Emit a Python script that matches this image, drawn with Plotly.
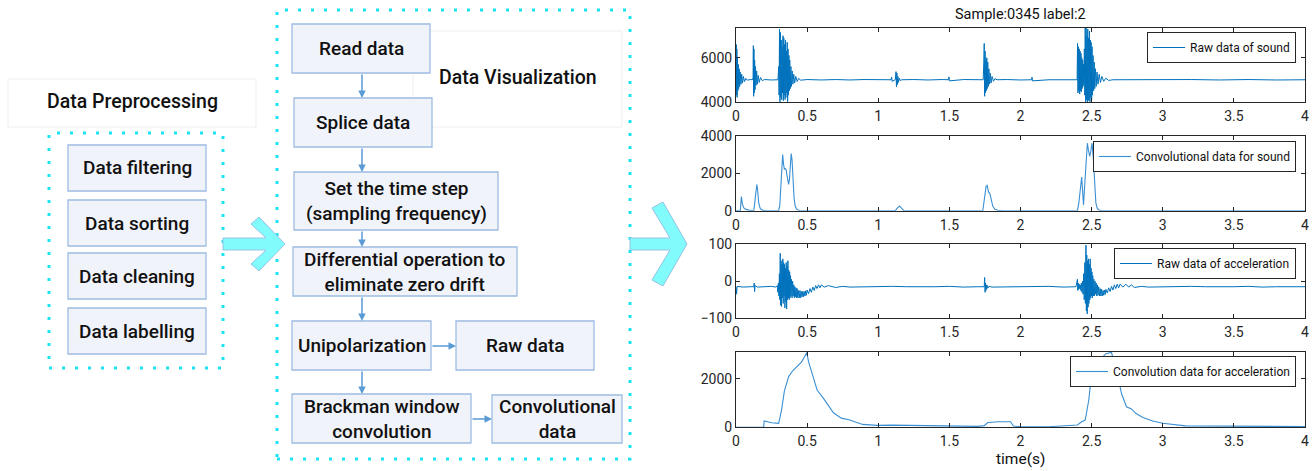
import plotly.graph_objects as go

W, H = 1313, 471

# ---------------- data ----------------
time_ticks = [0, 0.5, 1, 1.5, 2, 2.5, 3, 3.5, 4]
time_tick_text = ["0", "0.5", "1", "1.5", "2", "2.5", "3", "3.5", "4"]

# raw sound
snd_t = [
    0.000, 0.002, 0.004, 0.006, 0.008, 0.010, 0.013, 0.016, 0.019, 0.022, 0.026, 0.030, 0.035, 0.040, 0.046, 0.052, 0.060, 0.070, 0.080, 0.100,
    0.115, 0.120, 0.122, 0.124, 0.126, 0.128, 0.131, 0.134, 0.137, 0.141, 0.145, 0.150, 0.156, 0.163, 0.172, 0.185, 0.200, 0.250,
    0.295, 0.300, 0.303, 0.306, 0.309, 0.312, 0.315, 0.318, 0.321, 0.324, 0.327, 0.330, 0.333, 0.336, 0.339, 0.342, 0.345, 0.348, 0.351, 0.354,
    0.357, 0.360, 0.363, 0.366, 0.369, 0.372, 0.375, 0.378, 0.382, 0.386, 0.390, 0.395, 0.400, 0.406, 0.412, 0.420, 0.430, 0.440, 0.455, 0.500,
    0.600, 0.700, 0.800, 0.900, 1.000, 1.090, 1.094, 1.098, 1.120, 1.125, 1.128, 1.131, 1.134, 1.138, 1.142, 1.148, 1.155, 1.165, 1.250, 1.350,
    1.450, 1.494, 1.497, 1.500, 1.600, 1.700, 1.738, 1.742, 1.745, 1.748, 1.751, 1.754, 1.757, 1.760, 1.763, 1.766, 1.770, 1.774, 1.778, 1.782,
    1.787, 1.793, 1.800, 1.810, 1.820, 1.835, 1.900, 2.000, 2.078, 2.081, 2.084, 2.200, 2.300, 2.398,
    2.401, 2.404, 2.407, 2.410, 2.413, 2.416, 2.419, 2.422, 2.425, 2.428, 2.431, 2.434, 2.437, 2.440, 2.443, 2.446, 2.449, 2.452, 2.455, 2.458,
    2.461, 2.464, 2.467, 2.470, 2.473, 2.476, 2.479, 2.482, 2.485, 2.488, 2.491, 2.494, 2.497, 2.500, 2.503, 2.506, 2.510, 2.514, 2.518, 2.522,
    2.527, 2.532, 2.538, 2.545, 2.553, 2.562, 2.572, 2.585, 2.600, 2.620, 2.650, 2.800, 3.000, 3.200, 3.400, 3.600, 3.800, 4.000,
]
snd_v = [
    5000, 6600, 4300, 6400, 4200, 6000, 4500, 5700, 4600, 5500, 4700, 5350, 4800, 5250, 4850, 5150, 4920, 5060, 4980, 5010,
    5000, 5100, 6550, 4250, 6400, 4400, 5900, 4550, 5600, 4750, 5400, 4800, 5200, 4880, 5100, 4960, 5010, 4990,
    5000, 5600, 4300, 7300, 4000, 7150, 4200, 6800, 4100, 6500, 4400, 7000, 4050, 6900, 4300, 6600, 4100, 6800, 4200, 6300,
    4400, 6700, 4000, 6400, 4300, 6100, 4500, 5900, 4600, 5600, 4700, 5400, 4800, 5250, 4850, 5150, 4920, 5060, 4980, 5010,
    4990, 5010, 4990, 5010, 5000, 5000, 5120, 4930, 5000, 5370, 4680, 5300, 4780, 5150, 4880, 5070, 4960, 5000, 5010, 4990,
    5010, 5000, 5130, 4950, 5010, 4990, 5000, 5800, 6650, 4250, 6300, 4400, 5900, 4500, 6000, 4600, 5800, 4700, 5500, 4800,
    5300, 4850, 5150, 4930, 5050, 5000, 5010, 4990, 5000, 5120, 4950, 5000, 5010, 5000,
    6650, 4400, 6500, 4500, 6400, 4350, 6300, 4500, 6200, 4450, 6000, 4600, 5900, 4700, 5700, 4800, 6400, 4300, 7400, 4000,
    7350, 4100, 7000, 3990, 7300, 4050, 6900, 4100, 7200, 4000, 6800, 4200, 6700, 4100, 6500, 4300, 6100, 4500, 5800, 4600,
    5500, 4700, 5350, 4800, 5250, 4880, 5150, 4930, 5070, 4970, 5000, 5010, 4990, 5010, 4990, 5010, 4990, 5000,
]

# convolutional sound
csnd_t = [
    0.000, 0.030, 0.038, 0.045, 0.055, 0.070, 0.090, 0.110,
    0.125, 0.133, 0.140, 0.146, 0.152, 0.160, 0.170, 0.185, 0.210,
    0.300, 0.308, 0.316, 0.322, 0.328, 0.334, 0.340, 0.346, 0.352, 0.358, 0.364, 0.370, 0.376, 0.382, 0.388, 0.394, 0.400, 0.408, 0.416, 0.425, 0.435, 0.450, 0.480,
    1.120, 1.135, 1.150, 1.165, 1.180,
    1.735, 1.748, 1.758, 1.766, 1.775, 1.785, 1.795, 1.805, 1.820, 1.840, 1.870,
    2.400, 2.410, 2.420, 2.430, 2.437, 2.443, 2.450, 2.460, 2.470, 2.478, 2.487, 2.495, 2.503, 2.512, 2.520, 2.530, 2.540, 2.550, 2.565, 2.590, 2.640,
    4.000,
]
csnd_v = [
    0, 0, 750, 350, 150, 70, 30, 0,
    0, 500, 1200, 1400, 1100, 400, 120, 30, 0,
    0, 300, 1600, 2700, 3000, 2500, 2200, 2250, 2200, 1900, 1600, 1400, 1700, 2600, 3050, 2700, 1700, 700, 250, 100, 40, 10, 0,
    0, 150, 250, 120, 0,
    0, 700, 1300, 1350, 1000, 900, 600, 250, 80, 20, 0,
    0, 400, 1300, 1800, 1000, 300, 1200, 2800, 3600, 3200, 2900, 3200, 3600, 2800, 1300, 400, 120, 40, 10, 0, 0,
    0,
]

# raw acceleration
acc_t = [
    0.000, 0.004, 0.008, 0.050, 0.100, 0.125, 0.128, 0.131, 0.134, 0.150, 0.200, 0.250, 0.280, 0.290, 0.294, 0.298, 0.302, 0.305, 0.308, 0.311,
    0.314, 0.317, 0.320, 0.323, 0.326, 0.329, 0.332, 0.335, 0.338, 0.341, 0.344, 0.347, 0.350, 0.353, 0.356, 0.359, 0.362, 0.365, 0.368, 0.371,
    0.374, 0.377, 0.380, 0.383, 0.386, 0.390, 0.394, 0.398, 0.402, 0.406, 0.410, 0.414, 0.418, 0.422, 0.426, 0.430, 0.435, 0.440, 0.445, 0.450,
    0.455, 0.460, 0.465, 0.470, 0.475, 0.480, 0.485, 0.490, 0.495, 0.500, 0.510, 0.520, 0.530, 0.540, 0.550, 0.560, 0.570, 0.580, 0.590, 0.600,
    0.620, 0.650, 0.700, 0.750, 0.800, 0.900, 1.000, 1.100, 1.200, 1.300, 1.400, 1.500, 1.600, 1.700, 1.745, 1.748, 1.751, 1.754, 1.757, 1.760,
    1.764, 1.768, 1.772, 1.780, 1.800, 1.900, 2.000, 2.100, 2.200, 2.300, 2.390, 2.400, 2.403, 2.406, 2.409, 2.412, 2.416, 2.420, 2.424, 2.428,
    2.432, 2.436, 2.440, 2.444, 2.448, 2.452, 2.456, 2.460, 2.463, 2.466, 2.469, 2.472, 2.475, 2.478, 2.481, 2.484, 2.487, 2.490, 2.493, 2.496,
    2.499, 2.502, 2.505, 2.508, 2.512, 2.516, 2.520, 2.524, 2.528, 2.532, 2.536, 2.540, 2.545, 2.550, 2.555, 2.560, 2.565, 2.570, 2.575, 2.580,
    2.585, 2.590, 2.595, 2.600, 2.610, 2.620, 2.630, 2.640, 2.650, 2.660, 2.670, 2.680, 2.690, 2.700, 2.720, 2.740, 2.760, 2.780, 2.800, 2.850,
    2.900, 3.000, 3.100, 3.200, 3.300, 3.400, 3.500, 3.600, 3.700, 3.800, 3.900, 4.000,
]
acc_v = [
    -15, -35, -14, -16, -15, -15, -5, -28, -12, -16, -15, -14, -16, -12, -30, -5, -40, 20, -50, 75,
    -65, 55, -68, 45, -45, 60, -60, 50, -40, 45, -72, 35, -55, 50, -75, 40, -50, 55, -45, 30,
    -50, 25, -45, 15, -40, 5, -45, 0, -40, -10, -45, -15, -42, -18, -45, -20, -45, -25, -45, -25,
    -45, -28, -42, -27, -42, -28, -40, -26, -38, -24, -34, -20, -30, -16, -25, -12, -20, -10, -18, -10,
    -16, -12, -17, -14, -16, -15, -16, -14, -15, -16, -15, -14, -16, -15, -15, 10, -30, -5, -25, -10,
    -20, -12, -18, -14, -16, -15, -16, -15, -14, -16, -15, 5, -25, -5, -22, -8, -20, -10, -25, -5,
    -30, 0, -35, 20, -50, 50, -60, 97, -80, 70, -88, 55, -70, 60, -60, 45, -50, 60, -45, 35,
    -40, 25, -45, 15, -40, 5, -40, 0, -35, -5, -40, -10, -38, -15, -40, -20, -40, -22, -40, -25,
    -38, -24, -36, -22, -32, -18, -28, -14, -24, -10, -20, -8, -18, -8, -16, -8, -16, -10, -17, -14,
    -16, -15, -16, -14, -15, -16, -15, -14, -16, -15, -16, -15,
]

# convolution acceleration
cacc_t = [
    0.000, 0.100, 0.195, 0.198, 0.250, 0.300, 0.320, 0.340, 0.370, 0.400, 0.430, 0.460, 0.480, 0.497, 0.510,
    0.540, 0.570, 0.615, 0.650, 0.685, 0.740, 0.800, 0.890, 0.990, 1.100, 1.300, 1.500, 1.700, 1.745, 1.770,
    1.850, 1.930, 1.950, 2.000, 2.200, 2.400, 2.430, 2.455, 2.480, 2.490, 2.520, 2.560, 2.600, 2.640, 2.660,
    2.675, 2.690, 2.710, 2.745, 2.780, 2.810, 2.860, 2.930, 3.000, 3.160, 3.500, 4.000,
]
cacc_v = [
    0, 5, 10, 260, 190, 165, 715, 1500, 2100, 2350, 2510, 2700, 2900, 3100, 2720,
    2100, 1545, 1200, 900, 600, 380, 300, 120, 80, 90, 70, 50, 40, 70, 200,
    230, 230, 55, 20, 25, 95, 230, 300, 1130, 1680, 2300, 2800, 3050, 3100, 2600,
    2165, 1960, 1400, 850, 760, 580, 410, 260, 165, 60, 45, 30,
]

for a, b in [(snd_t, snd_v), (csnd_t, csnd_v), (acc_t, acc_v), (cacc_t, cacc_v)]:
    assert len(a) == len(b), (len(a), len(b))

series_names = ["Raw data of sound", "Convolutional data for sound",
                "Raw data of acceleration", "Convolution data for acceleration"]
y_ranges = [[3990, 7350], [0, 4000], [-100, 100], [0, 3130]]
y_ticks = [[4000, 6000], [0, 2000, 4000], [-100, 0, 100], [0, 2000]]

prep_steps = ["Data filtering", "Data sorting", "Data cleaning", "Data labelling"]

# ---------------- figure ----------------
def X(p):
    return p / W


def Y(p):
    return 1 - p / H


AX = "#262626"
BLUE = "#0072BD"
CONV = "#3A8FD3"

fig = go.Figure()
series = [(snd_t, snd_v, BLUE, 1.0), (csnd_t, csnd_v, CONV, 1.1),
          (acc_t, acc_v, BLUE, 1.0), (cacc_t, cacc_v, CONV, 1.1)]
ax_px = [(28, 102), (135.7, 210.7), (244, 318.3), (351.7, 427.3)]
legend_top = [32, 141, 248, 356]

for i, (t, v, col, lw) in enumerate(series):
    n = "" if i == 0 else str(i + 1)
    fig.add_trace(go.Scatter(
        x=t, y=v, mode="lines", name=series_names[i],
        line=dict(color=col, width=lw),
        xaxis="x" + n, yaxis="y" + n,
        legend="legend" + n,
    ))
    top, bot = ax_px[i]
    fig.layout["xaxis" + n] = dict(
        domain=[X(736), X(1305)], anchor="y" + n, range=[0, 4],
        tickvals=time_ticks, ticktext=time_tick_text, automargin=False,
        showline=True, linecolor=AX, linewidth=1, mirror="ticks",
        ticks="inside", ticklen=4, tickcolor=AX, showgrid=False, zeroline=False,
        tickfont=dict(size=14, color=AX), ticklabelstandoff=1,
    )
    fig.layout["yaxis" + n] = dict(
        domain=[Y(bot), Y(top)], anchor="x" + n, range=y_ranges[i],
        tickvals=y_ticks[i], automargin=False,
        showline=True, linecolor=AX, linewidth=1, mirror="ticks",
        ticks="inside", ticklen=4, tickcolor=AX, showgrid=False, zeroline=False,
        tickfont=dict(size=14, color=AX),
    )
    fig.layout["legend" + n] = dict(
        x=X(1296), y=Y(legend_top[i]), xanchor="right", yanchor="top",
        bgcolor="white", bordercolor=AX, borderwidth=1,
        font=dict(size=12, color="#111111"), itemwidth=32,
        tracegroupgap=0,
    )

shapes = []
annotations = []

CYAN = "#1BE3F2"
BOX_LINE = "#9DBCE2"
BOX_FILL = "#F1F3FA"
FLOW_FONT = dict(family="Roboto", size=19, color="#111111", weight=500)


def rect(x0, y0, x1, y1, line_color, fill="rgba(0,0,0,0)", width=1, dash="solid"):
    shapes.append(dict(type="rect", xref="paper", yref="paper",
                       x0=X(x0), x1=X(x1), y0=Y(y1), y1=Y(y0),
                       line=dict(color=line_color, width=width, dash=dash),
                       fillcolor=fill, layer="below"))


def text(x, y, s, size=None):
    f = dict(FLOW_FONT)
    if size:
        f["size"] = size
    annotations.append(dict(x=X(x), y=Y(y), xref="paper", yref="paper", text=s,
                            showarrow=False, xanchor="center", yanchor="middle",
                            font=f))


def box(x0, y0, x1, y1, s):
    rect(x0, y0, x1, y1, BOX_LINE, BOX_FILL, 1.3)
    text((x0 + x1) / 2, (y0 + y1) / 2, s)


def arrow(xt, yt, xh, yh):
    annotations.append(dict(x=X(xh), y=Y(yh), xref="paper", yref="paper",
                            ax=xt - xh, ay=yt - yh, axref="pixel", ayref="pixel",
                            text="", showarrow=True, arrowhead=2, arrowsize=1,
                            arrowwidth=1.5, arrowcolor="#5B9BD5", standoff=0))


def big_arrow(pts):
    d = "M " + " L ".join(f"{X(px):.5f},{Y(py):.5f}" for px, py in pts) + " Z"
    shapes.append(dict(type="path", xref="paper", yref="paper", path=d,
                       fillcolor="#82FBFD", line=dict(color="#95C3E3", width=1),
                       layer="above"))


# left part: data preprocessing
rect(8, 79, 256, 127, "#EEEEEE", width=1)
text(132, 102, "Data Preprocessing", size=19.5)
rect(49, 133, 223, 368, CYAN, width=3, dash="3px,10px")
for k, (y0, y1) in enumerate([(145, 191), (200, 246), (253, 299), (308, 354)]):
    box(68, y0, 206, y1, prep_steps[k])

big_arrow([(223, 238), (266, 238), (251, 224), (259, 217), (285, 244), (259, 271),
           (251, 264), (266, 250), (223, 250)])

# middle: data visualization
rect(277, 10, 630, 459, CYAN, width=3, dash="3px,10px")
rect(413, 31, 622, 127, "#EEEEEE", width=1)
text(518, 78, "Data Visualization", size=19.5)
box(292, 24, 430, 73, "Read data")
box(294, 98, 432, 147, "Splice data")
box(294, 172, 498, 230, "Set the time step<br>(sampling frequency)")
box(293, 247, 517, 296, "Differential operation to<br>eliminate zero drift")
box(292, 321, 431, 370, "Unipolarization")
box(456, 321, 594, 370, "Raw data")
box(292, 394, 471, 443, "Brackman window<br>convolution")
box(492, 395, 622, 443, "Convolutional<br>data")

arrow(362, 73, 362, 98)
arrow(362, 147, 362, 172)
arrow(362, 230, 362, 247)
arrow(362, 296, 362, 321)
arrow(362, 370, 362, 394)
arrow(431, 346, 456, 346)
arrow(471, 419, 492, 419)

big_arrow([(630, 238), (670, 238), (652, 208), (663, 202), (687, 244), (663, 286),
           (652, 280), (670, 250), (630, 250)])

# chart title and x label
annotations.append(dict(x=X(1020), y=Y(15), xref="paper", yref="paper",
                        xanchor="center", yanchor="middle",
                        text="Sample:0345 label:2", showarrow=False,
                        font=dict(family="Roboto", size=14.5, color="#111111")))
annotations.append(dict(x=X(1020), y=Y(459), xref="paper", yref="paper",
                        xanchor="center", yanchor="middle",
                        text="time(s)", showarrow=False,
                        font=dict(family="Roboto", size=15.5, color="#111111")))

fig.update_layout(
    width=W, height=H, autosize=False,
    margin=dict(l=0, r=0, t=0, b=0, autoexpand=False),
    paper_bgcolor="white", plot_bgcolor="white",
    font=dict(family="Roboto", color=AX),
    shapes=shapes, annotations=annotations,
    showlegend=True,
)

# remove the default 8px page margin synchronously (not only after the plot promise)
page_css = ("}); document.documentElement.style.margin='0px'; "
            "document.body.style.margin='0px'; document.body.style.overflow='hidden'; "
            "(function(){")

fig.write_html("out.html", config={"displayModeBar": False}, post_script=page_css)
